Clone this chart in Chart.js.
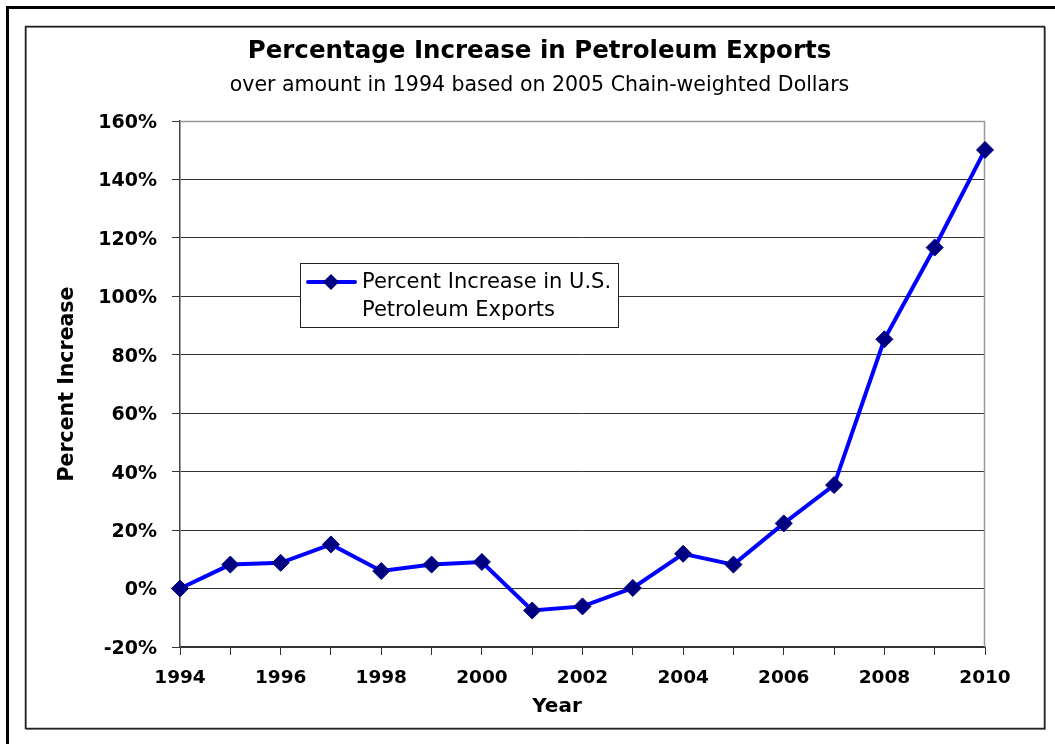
<!DOCTYPE html>
<html>
<head>
<meta charset="utf-8">
<script src="https://cdn.jsdelivr.net/npm/chart.js@4"></script>
<style>
  html, body { margin: 0; padding: 0; background: #fff; }
  #wrap { width: 1055px; height: 744px; position: relative; }
</style>
</head>
<body>
<div id="wrap"><canvas id="c"></canvas></div>
<script>
const years = ['1994','1995','1996','1997','1998','1999','2000','2001','2002','2003','2004','2005','2006','2007','2008','2009','2010'];
const percentIncrease = [0, 8.2, 8.8, 15.1, 6.0, 8.2, 9.1, -7.5, -6.1, 0.2, 11.9, 8.2, 22.3, 35.4, 85.3, 116.7, 150.1];
const yTicks = { min: -20, max: 160, step: 20 };
const titleText = 'Percentage Increase in Petroleum Exports';
const subtitleText = 'over amount in 1994 based on 2005 Chain-weighted Dollars';
const xTitle = 'Year';
const yTitle = 'Percent Increase';
const legendLines = ['Percent Increase in U.S.', 'Petroleum Exports'];

const FONT = "'DejaVu Sans', Verdana, sans-serif";

const framePlugin = {
  id: 'frame',
  beforeDraw(chart) {
    const ctx = chart.ctx;
    ctx.save();
    ctx.fillStyle = '#fff';
    ctx.fillRect(0, 0, chart.width, chart.height);
    ctx.fillStyle = '#000';
    ctx.fillRect(6, 6, chart.width - 6, 3);
    ctx.fillRect(6, 6, 3, chart.height - 6);
    ctx.strokeStyle = '#999';
    ctx.lineWidth = 1;
    ctx.strokeRect(26.5, 27.5, 1019, 702);
    ctx.strokeStyle = '#222';
    ctx.lineWidth = 1.5;
    ctx.strokeRect(25.5, 26.5, 1019, 702);
    ctx.restore();
  },
  beforeDatasetsDraw(chart) {
    const { ctx, chartArea: a } = chart;
    ctx.save();
    ctx.strokeStyle = '#999';
    ctx.lineWidth = 1.5;
    ctx.beginPath();
    ctx.moveTo(a.left, a.top + 0.5);
    ctx.lineTo(a.right - 0.5, a.top + 0.5);
    ctx.lineTo(a.right - 0.5, a.bottom);
    ctx.stroke();
    ctx.restore();
  }
};

const textPlugin = {
  id: 'extraText',
  afterDraw(chart) {
    const ctx = chart.ctx;
    const ds = chart.data.datasets[0];
    ctx.save();
    ctx.fillStyle = '#000';
    ctx.font = "bold 20px " + FONT;
    ctx.textAlign = 'center';
    ctx.textBaseline = 'middle';
    ctx.fillText(xTitle, 557, 707);

    const bx = 300, by = 263, bw = 318, bh = 64;
    ctx.fillStyle = '#fff';
    ctx.fillRect(bx, by, bw, bh);
    ctx.strokeStyle = '#222';
    ctx.lineWidth = 1;
    ctx.strokeRect(bx + 0.5, by + 0.5, bw, bh);
    const ly = by + 19;
    ctx.strokeStyle = ds.borderColor;
    ctx.lineWidth = ds.borderWidth;
    ctx.lineCap = 'round';
    ctx.beginPath();
    ctx.moveTo(308, ly);
    ctx.lineTo(355, ly);
    ctx.stroke();
    const r = 8;
    ctx.fillStyle = ds.pointBackgroundColor;
    ctx.beginPath();
    ctx.moveTo(331, ly - r); ctx.lineTo(331 + r, ly); ctx.lineTo(331, ly + r); ctx.lineTo(331 - r, ly);
    ctx.closePath();
    ctx.fill();
    ctx.fillStyle = '#000';
    ctx.font = "21px " + FONT;
    ctx.textBaseline = 'middle';
    ctx.textAlign = 'left';
    ctx.fillText(legendLines[0], 362, by + 20);
    ctx.fillText(legendLines[1], 362, by + 48);
    ctx.restore();
  }
};

new Chart(document.getElementById('c'), {
  type: 'line',
  data: {
    labels: years,
    datasets: [{
      label: legendLines.join(' '),
      data: percentIncrease,
      borderColor: '#0000FF',
      borderWidth: 4,
      pointStyle: 'rectRot',
      pointRadius: 8.5,
      pointHoverRadius: 8.5,
      pointBackgroundColor: '#000080',
      pointBorderColor: '#000080',
      pointBorderWidth: 1,
      tension: 0,
      clip: false
    }]
  },
  options: {
    responsive: true,
    maintainAspectRatio: false,
    animation: false,
    events: [],
    layout: { padding: { top: 27, left: 27, right: 3, bottom: 16 } },
    plugins: {
      legend: { display: false },
      tooltip: { enabled: false },
      title: {
        display: true,
        text: titleText,
        color: '#000',
        font: { family: FONT, size: 24.5, weight: 'bold', lineHeight: 1.2 },
        padding: { top: 10, bottom: 7 }
      },
      subtitle: {
        display: true,
        text: subtitleText,
        color: '#000',
        font: { family: FONT, size: 20.5, weight: 'normal', lineHeight: 1.2 },
        padding: { top: 0, bottom: 23 }
      }
    },
    scales: {
      x: {
        type: 'category',
        offset: false,
        afterFit(scale) { scale.height = 81; },
        grid: {
          display: true,
          drawOnChartArea: false,
          drawTicks: true,
          tickLength: 8,
          tickColor: '#333',
          tickWidth: 1
        },
        border: { display: true, color: '#333', width: 1.5 },
        ticks: {
          autoSkip: false,
          maxRotation: 0,
          minRotation: 0,
          padding: 12,
          color: '#000',
          font: { family: FONT, size: 18.5, weight: 'bold', lineHeight: 1.2 },
          callback(v, i) { return i % 2 === 0 ? years[i] : ''; }
        },
        title: { display: false }
      },
      y: {
        min: yTicks.min,
        max: yTicks.max,
        afterFit(scale) { scale.width = 153; },
        grid: {
          drawTicks: true,
          tickLength: 8,
          color(ctx) { return ctx.tick && ctx.tick.value === yTicks.max ? 'rgba(0,0,0,0)' : '#333'; },
          tickColor: '#333',
          lineWidth: 1
        },
        border: { display: true, color: '#444', width: 1.5 },
        ticks: {
          stepSize: yTicks.step,
          padding: 15,
          labelOffset: 2,
          color: '#000',
          font: { family: FONT, size: 19, weight: 'bold', lineHeight: 1.2 },
          callback(v) { return v + '%'; }
        },
        title: {
          display: true,
          text: yTitle,
          color: '#000',
          font: { family: FONT, size: 20.5, weight: 'bold', lineHeight: 1.2 },
          padding: { top: 28, bottom: 0 }
        }
      },
      ySpacer: {
        position: 'right',
        min: 0,
        max: 1,
        afterFit(scale) { scale.width = 67; },
        grid: { display: false, drawOnChartArea: false },
        border: { display: false },
        ticks: { display: false },
        title: { display: false }
      }
    }
  },
  plugins: [framePlugin, textPlugin]
});
</script>
</body>
</html>
